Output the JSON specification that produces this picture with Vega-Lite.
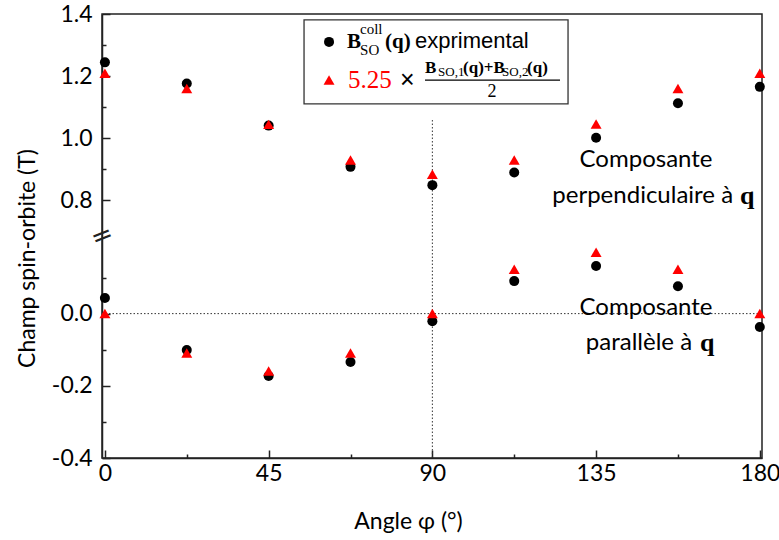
{
  "$schema": "https://vega.github.io/schema/vega-lite/v6.json",
  "width": 660,
  "height": 444,
  "autosize": {"type": "none"},
  "padding": {"left": 102, "top": 14, "right": 17, "bottom": 82},
  "background": "white",
  "config": {
    "view": {"stroke": "#222", "strokeWidth": 1.5},
    "axis": {
      "grid": false,
      "domainColor": "#222",
      "domainWidth": 1.5,
      "tickColor": "#222",
      "tickWidth": 1.5,
      "labelFont": "Lato",
      "labelFontSize": 23,
      "labelColor": "black",
      "titleFont": "Lato",
      "titleFontSize": 23,
      "titleFontWeight": "normal",
      "titleColor": "black"
    }
  },
  "datasets": {
    "points": [
      {"s": "exp", "x": 0, "y": 1.244},
      {"s": "exp", "x": 22.5, "y": 1.176},
      {"s": "exp", "x": 45, "y": 1.040},
      {"s": "exp", "x": 67.5, "y": 0.907},
      {"s": "exp", "x": 90, "y": 0.848},
      {"s": "exp", "x": 112.5, "y": 0.889},
      {"s": "exp", "x": 135, "y": 1.001},
      {"s": "exp", "x": 157.5, "y": 1.112},
      {"s": "exp", "x": 180, "y": 1.165},
      {"s": "exp", "x": 0, "y": 0.043},
      {"s": "exp", "x": 22.5, "y": -0.101},
      {"s": "exp", "x": 45, "y": -0.173},
      {"s": "exp", "x": 67.5, "y": -0.134},
      {"s": "exp", "x": 90, "y": -0.021},
      {"s": "exp", "x": 112.5, "y": 0.090},
      {"s": "exp", "x": 135, "y": 0.132},
      {"s": "exp", "x": 157.5, "y": 0.076},
      {"s": "exp", "x": 180, "y": -0.037},
      {"s": "calc", "x": 0, "y": 1.209},
      {"s": "calc", "x": 22.5, "y": 1.160},
      {"s": "calc", "x": 45, "y": 1.044},
      {"s": "calc", "x": 67.5, "y": 0.929},
      {"s": "calc", "x": 90, "y": 0.883},
      {"s": "calc", "x": 112.5, "y": 0.929},
      {"s": "calc", "x": 135, "y": 1.045},
      {"s": "calc", "x": 157.5, "y": 1.160},
      {"s": "calc", "x": 180, "y": 1.209},
      {"s": "calc", "x": 0, "y": 0.0},
      {"s": "calc", "x": 22.5, "y": -0.109},
      {"s": "calc", "x": 45, "y": -0.159},
      {"s": "calc", "x": 67.5, "y": -0.109},
      {"s": "calc", "x": 90, "y": 0.0},
      {"s": "calc", "x": 112.5, "y": 0.123},
      {"s": "calc", "x": 135, "y": 0.170},
      {"s": "calc", "x": 157.5, "y": 0.123},
      {"s": "calc", "x": 180, "y": 0.0}
    ],
    "notes": [
      {"id": "zero", "x": -0.8, "x2": 180.6, "y": 0},
      {"id": "vline", "x": 90, "y": 1.058, "y2": -0.4},
      {"id": "box", "x": 54.73, "x2": 127.29, "y": 1.381, "y2": 1.110},
      {"id": "leg", "s": "exp", "x": 61.6, "y": 1.310},
      {"id": "leg", "s": "calc", "x": 61.6, "y": 1.187},
      {"id": "bigB", "x": 66.54, "y": 1.310, "text": "B"},
      {"id": "small", "x": 70.12, "y": 1.352, "text": "coll"},
      {"id": "small", "x": 70.12, "y": 1.283, "text": "SO"},
      {"id": "bigB", "x": 76.99, "y": 1.310, "text": "(q)"},
      {"id": "sans", "x": 85.24, "y": 1.313, "text": "exprimental"},
      {"id": "coef", "x": 66.82, "y": 1.187, "text": "5.25"},
      {"id": "times", "x": 81.11, "y": 1.187, "text": "×"},
      {"id": "numB", "x": 87.98, "y": 1.226, "text": "B"},
      {"id": "numsub", "x": 91.56, "y": 1.212, "text": "SO,1"},
      {"id": "numB", "x": 98.43, "y": 1.226, "text": "(q)+B"},
      {"id": "numsub", "x": 109.15, "y": 1.212, "text": "SO,2"},
      {"id": "numB", "x": 116.02, "y": 1.226, "text": "(q)"},
      {"id": "frac", "x": 87.98, "x2": 125.09, "y": 1.187},
      {"id": "den", "x": 106.4, "y": 1.148, "text": "2"},
      {"id": "cap", "x": 148.73, "y": 0.929, "text": "Composante"},
      {"id": "lineR", "x": 172.65, "y": 0.813, "text": "perpendiculaire à"},
      {"id": "qb", "x": 174.57, "y": 0.813, "text": "q"},
      {"id": "cap", "x": 148.73, "y": 0.015, "text": "Composante"},
      {"id": "lineR", "x": 161.38, "y": -0.082, "text": "parallèle à"},
      {"id": "qb", "x": 163.58, "y": -0.082, "text": "q"},
      {"id": "brk", "x": -0.8, "y": 0.45, "text": "="}
    ]
  },
  "encoding": {
    "x": {
      "field": "x",
      "type": "quantitative",
      "title": "Angle φ (°)",
      "scale": {"domain": [-0.8, 180.6], "nice": false, "zero": false},
      "axis": {
        "values": [0, 22.5, 45, 67.5, 90, 112.5, 135, 157.5, 180],
        "labelExpr": "datum.value % 45 == 0 ? datum.label : ''",
        "tickSize": {"condition": {"test": "datum.value % 45 == 0", "value": -8}, "value": -4},
        "labelPadding": 12,
        "labelFlush": false,
        "titleX": 306,
        "titleY": 63,
        "titleBaseline": "middle",
        "titleAlign": "center"
      }
    },
    "y": {
      "field": "y",
      "type": "quantitative",
      "title": "Champ spin-orbite (T)",
      "scale": {"domain": [-0.4, 0.215, 0.684, 1.4], "range": [444, 222, 222, 0], "nice": false, "zero": false},
      "axis": {
        "values": [-0.4, -0.3, -0.2, -0.1, 0, 0.1, 0.8, 0.9, 1, 1.1, 1.2, 1.3, 1.4],
        "labelExpr": "round(datum.value*10) % 2 == 0 ? replace(format(datum.value, '.1f'), '\u2212', '-') : ''",
        "tickSize": {"condition": {"test": "round(datum.value*10) % 2 == 0", "value": -8}, "value": -4},
        "labelPadding": 18,
        "labelFlush": false,
        "titleX": -68,
        "titleY": 244,
        "titleAngle": -90,
        "titleBaseline": "alphabetic",
        "titleAlign": "center"
      }
    }
  },
  "layer": [
    {
      "data": {"name": "notes"},
      "transform": [{"filter": "datum.id == 'zero'"}],
      "mark": {"type": "rule", "strokeDash": [1.5, 2], "color": "#333", "strokeWidth": 1},
      "encoding": {"x2": {"field": "x2"}}
    },
    {
      "data": {"name": "notes"},
      "transform": [{"filter": "datum.id == 'vline'"}],
      "mark": {"type": "rule", "strokeDash": [1.5, 2], "color": "#333", "strokeWidth": 1},
      "encoding": {"y2": {"field": "y2"}}
    },
    {
      "data": {"name": "notes"},
      "transform": [{"filter": "datum.id == 'box'"}],
      "mark": {"type": "rect", "fill": "white", "stroke": "#333", "strokeWidth": 1.3},
      "encoding": {"x2": {"field": "x2"}, "y2": {"field": "y2"}}
    },
    {
      "data": {"name": "points"},
      "mark": {"type": "point", "filled": true, "opacity": 1},
      "encoding": {
        "shape": {"field": "s", "type": "nominal", "scale": {"domain": ["exp", "calc"], "range": ["circle", "triangle-up"]}, "legend": null},
        "color": {"field": "s", "type": "nominal", "scale": {"domain": ["exp", "calc"], "range": ["#000000", "#ff0000"]}, "legend": null},
        "size": {"field": "s", "type": "nominal", "scale": {"domain": ["exp", "calc"], "range": [100, 120]}, "legend": null}
      }
    },
    {
      "data": {"name": "notes"},
      "transform": [{"filter": "datum.id == 'leg'"}],
      "mark": {"type": "point", "filled": true, "opacity": 1},
      "encoding": {
        "shape": {"field": "s", "type": "nominal", "scale": {"domain": ["exp", "calc"], "range": ["circle", "triangle-up"]}, "legend": null},
        "color": {"field": "s", "type": "nominal", "scale": {"domain": ["exp", "calc"], "range": ["#000000", "#ff0000"]}, "legend": null},
        "size": {"field": "s", "type": "nominal", "scale": {"domain": ["exp", "calc"], "range": [100, 120]}, "legend": null}
      }
    },
    {
      "data": {"name": "notes"},
      "transform": [{"filter": "datum.id == 'bigB'"}],
      "mark": {"type": "text", "font": "Liberation Serif", "fontWeight": "bold", "fontSize": 21, "align": "left", "baseline": "middle", "color": "black"},
      "encoding": {"text": {"field": "text"}}
    },
    {
      "data": {"name": "notes"},
      "transform": [{"filter": "datum.id == 'small'"}],
      "mark": {"type": "text", "font": "Liberation Serif", "fontSize": 15, "align": "left", "baseline": "middle", "color": "black"},
      "encoding": {"text": {"field": "text"}}
    },
    {
      "data": {"name": "notes"},
      "transform": [{"filter": "datum.id == 'sans'"}],
      "mark": {"type": "text", "font": "Liberation Sans", "fontSize": 22, "align": "left", "baseline": "middle", "color": "black"},
      "encoding": {"text": {"field": "text"}}
    },
    {
      "data": {"name": "notes"},
      "transform": [{"filter": "datum.id == 'coef'"}],
      "mark": {"type": "text", "font": "Liberation Serif", "fontSize": 25, "align": "left", "baseline": "middle", "color": "#ff0000"},
      "encoding": {"text": {"field": "text"}}
    },
    {
      "data": {"name": "notes"},
      "transform": [{"filter": "datum.id == 'times'"}],
      "mark": {"type": "text", "font": "Liberation Sans", "fontSize": 25, "align": "left", "baseline": "middle", "color": "black"},
      "encoding": {"text": {"field": "text"}}
    },
    {
      "data": {"name": "notes"},
      "transform": [{"filter": "datum.id == 'numB'"}],
      "mark": {"type": "text", "font": "Liberation Serif", "fontWeight": "bold", "fontSize": 17, "align": "left", "baseline": "middle", "color": "black"},
      "encoding": {"text": {"field": "text"}}
    },
    {
      "data": {"name": "notes"},
      "transform": [{"filter": "datum.id == 'numsub'"}],
      "mark": {"type": "text", "font": "Liberation Serif", "fontSize": 13, "align": "left", "baseline": "middle", "color": "black"},
      "encoding": {"text": {"field": "text"}}
    },
    {
      "data": {"name": "notes"},
      "transform": [{"filter": "datum.id == 'frac'"}],
      "mark": {"type": "rule", "color": "black", "strokeWidth": 1.2},
      "encoding": {"x2": {"field": "x2"}}
    },
    {
      "data": {"name": "notes"},
      "transform": [{"filter": "datum.id == 'den'"}],
      "mark": {"type": "text", "font": "Liberation Serif", "fontSize": 18, "align": "center", "baseline": "middle", "color": "black"},
      "encoding": {"text": {"field": "text"}}
    },
    {
      "data": {"name": "notes"},
      "transform": [{"filter": "datum.id == 'cap'"}],
      "mark": {"type": "text", "font": "Lato", "fontSize": 24, "align": "center", "baseline": "middle", "color": "black"},
      "encoding": {"text": {"field": "text"}}
    },
    {
      "data": {"name": "notes"},
      "transform": [{"filter": "datum.id == 'lineR'"}],
      "mark": {"type": "text", "font": "Lato", "fontSize": 24, "align": "right", "baseline": "middle", "color": "black"},
      "encoding": {"text": {"field": "text"}}
    },
    {
      "data": {"name": "notes"},
      "transform": [{"filter": "datum.id == 'qb'"}],
      "mark": {"type": "text", "font": "Liberation Serif", "fontWeight": "bold", "fontSize": 26, "align": "left", "baseline": "middle", "color": "black"},
      "encoding": {"text": {"field": "text"}}
    },
    {
      "data": {"name": "notes"},
      "transform": [{"filter": "datum.id == 'brk'"}],
      "mark": {"type": "text", "font": "DejaVu Sans", "fontSize": 26, "align": "center", "baseline": "middle", "angle": 338, "color": "#222"},
      "encoding": {"text": {"field": "text"}}
    }
  ]
}
